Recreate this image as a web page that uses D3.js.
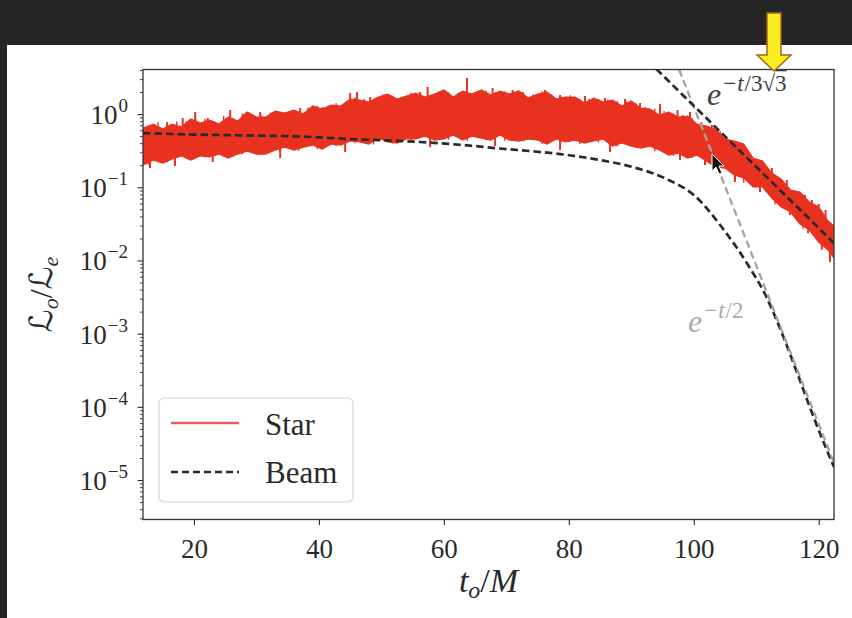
<!DOCTYPE html>
<html>
<head>
<meta charset="utf-8">
<script src="https://cdn.jsdelivr.net/npm/d3@7"></script>
<style>
  html, body { margin: 0; padding: 0; background: #ffffff; }
  svg { display: block; }
</style>
</head>
<body>
<svg id="chart" width="852" height="618"></svg>
<script>
// ---- axis settings ----
const xDomain = [11.84, 122.45];
const yDomain = [2.89e-6, 4.06];
const xTicks = [20, 40, 60, 80, 100, 120];
const yMajorTicks = [1e0, 1e-1, 1e-2, 1e-3, 1e-4, 1e-5];
const yTickExponents = ["0", "\u22121", "\u22122", "\u22123", "\u22124", "\u22125"];

// ---- Star luminosity: band envelope (upper / lower) over time ----
const starT = [11.84, 13.5, 15, 16.5, 18, 19.5, 21, 22.5, 24, 25.5, 27, 28.5, 30, 31.5, 33, 34.5, 36, 37.5, 39, 40.5,
  42, 43.5, 45, 46.5, 48, 49.5, 51, 52.5, 54, 55.5, 57, 58.5, 60, 61.5, 63, 64.5, 66, 67.5, 69, 70.5,
  72, 73.5, 75, 76.5, 78, 79.5, 81, 82.5, 84, 85.5, 87, 88.5, 90, 91.5, 93, 94.5, 96, 97.5, 99, 100.5,
  102, 103.5, 105, 106.5, 108, 109.5, 111, 112.5, 114, 115.5, 117, 118.5, 120, 121.5, 122.45];
const starHi = [0.644, 0.730, 0.624, 0.730, 0.664, 0.855, 0.754, 0.828, 0.730, 0.910,
  0.802, 1.065, 0.910, 0.910, 1.099, 1.032, 1.134, 1.000, 1.286, 1.170,
  1.327, 1.286, 1.603, 1.553, 1.458, 1.707, 1.876, 1.603, 1.762, 1.936,
  1.707, 1.876, 2.128, 1.707, 2.062, 1.876, 2.128, 1.818, 2.062, 1.876,
  2.062, 1.654, 1.876, 1.998, 1.603, 1.707, 1.707, 1.413, 1.654, 1.458,
  1.553, 1.286, 1.505, 1.208, 1.170, 0.969, 1.065, 0.910, 0.939, 0.730,
  0.686, 0.624, 0.456, 0.428, 0.389, 0.251, 0.228, 0.156, 0.129, 0.0916,
  0.0860, 0.0628, 0.0536, 0.0345, 0.0295];
const starLo = [0.201, 0.235, 0.214, 0.243, 0.267, 0.235, 0.267, 0.259, 0.284, 0.251,
  0.284, 0.312, 0.284, 0.284, 0.322, 0.354, 0.322, 0.354, 0.377, 0.333,
  0.389, 0.377, 0.428, 0.415, 0.389, 0.470, 0.415, 0.402, 0.456, 0.456,
  0.500, 0.441, 0.456, 0.517, 0.441, 0.500, 0.470, 0.441, 0.517, 0.441,
  0.428, 0.456, 0.441, 0.389, 0.456, 0.415, 0.441, 0.402, 0.428, 0.456,
  0.365, 0.402, 0.365, 0.343, 0.365, 0.322, 0.275, 0.293, 0.251, 0.275,
  0.228, 0.189, 0.183, 0.147, 0.134, 0.101, 0.101, 0.0712, 0.0536, 0.0458,
  0.0314, 0.0260, 0.0178, 0.0139, 0.0108];

// isolated flares above the band and dips below it
const starPeakT = [15.7, 18.2, 20.2, 22.2, 25.8, 28.6, 30.6, 34.9, 37.0, 39.7, 40.6, 45.0, 46.1, 48.2, 51.4,
  56.2, 57.4, 60.5, 63.7, 65.8, 67.8, 71.0, 72.6, 76.2, 78.6, 82.6, 85.8, 89.0, 91.4, 94.6,
  97.4, 99.4, 102.9, 105.4, 107.7, 110.6, 112.5, 114.9, 117.8, 118.9, 120.0, 121.1];
const starPeakV = [0.777, 0.882, 1.065, 0.882, 1.134, 1.032, 1.065, 1.032, 1.208, 1.134, 1.246, 1.936, 1.998, 1.707, 1.818,
  1.998, 2.338, 1.936, 3.103, 1.936, 2.266, 2.128, 1.998, 2.128, 1.818, 1.762, 1.654, 1.603, 1.413, 1.370,
  1.134, 1.065, 0.708, 0.441, 0.322, 0.235, 0.183, 0.1254, 0.0782, 0.0669, 0.0590, 0.0488];
const starDipT = [12.96, 16.96, 23.0, 33.8, 44.2, 57.8, 68.2, 78.6, 86.6, 97.8, 101.8, 106.6, 110.6, 115.4, 118.3, 120.5, 121.8];
const starDipV = [0.183, 0.195, 0.221, 0.251, 0.303, 0.354, 0.365, 0.322, 0.303, 0.235, 0.201, 0.118, 0.0860, 0.0417, 0.0235, 0.0140, 0.0095];

// short-scale flicker on the upper and lower edges of the band
const starUpT = [12.7, 14.25, 15.75, 17.25, 18.75, 20.25, 21.75, 23.25, 24.75, 26.25, 27.75, 29.25, 30.75, 32.25, 33.75,
  35.25, 36.75, 38.25, 39.75, 41.25, 42.75, 44.25, 45.75, 47.25, 48.75, 50.25, 51.75, 53.25, 54.75, 56.25,
  57.75, 59.25, 60.75, 62.25, 63.75, 65.25, 66.75, 68.25, 69.75, 71.25, 72.75, 74.25, 75.75, 77.25, 78.75,
  80.25, 81.75, 83.25, 84.75, 86.25, 87.75, 89.25, 90.75, 92.25, 93.75, 95.25, 96.75, 98.25, 99.75,
  101.25, 104.25, 107.25, 110.25, 113.25, 116.25, 119.25];
const starUpV = [0.70, 0.78, 0.70, 0.79, 0.80, 0.86, 0.86, 0.80, 0.95, 0.88, 1.02, 1.00, 0.96, 1.05, 1.06,
  1.10, 1.08, 1.22, 1.30, 1.25, 1.40, 1.45, 1.70, 1.62, 1.60, 1.85, 1.78, 1.72, 1.95, 1.90,
  1.80, 2.05, 1.98, 1.95, 2.00, 2.05, 2.10, 2.00, 2.05, 2.00, 1.95, 1.85, 2.05, 1.85, 1.75,
  1.80, 1.62, 1.60, 1.62, 1.58, 1.50, 1.48, 1.42, 1.25, 1.18, 1.10, 1.02, 0.97, 0.88,
  0.78, 0.58, 0.36, 0.225, 0.140, 0.088, 0.055];
const starDownT = [12.7, 15.75, 18.75, 21.75, 24.75, 27.75, 30.75, 33.75, 36.75, 39.75, 42.75, 45.75, 48.75, 51.75, 54.75,
  57.75, 60.75, 63.75, 66.75, 69.75, 72.75, 75.75, 78.75, 81.75, 84.75, 87.75, 90.75, 93.75, 96.75, 99.75,
  103.0, 108.0, 113.0, 117.5];
const starDownV = [0.205, 0.22, 0.245, 0.255, 0.26, 0.28, 0.275, 0.30, 0.315, 0.33, 0.365, 0.40, 0.385, 0.395, 0.44,
  0.43, 0.445, 0.43, 0.44, 0.43, 0.42, 0.39, 0.41, 0.39, 0.41, 0.36, 0.34, 0.31, 0.27, 0.25,
  0.19, 0.115, 0.058, 0.027];

// ---- Beam luminosity ----
const beamT = [11.84, 20.0, 29.9, 37.0, 45.0, 56.2, 63.0, 69.0, 73.8, 78.6, 85.0, 90.2, 95.7, 100.2, 104.6,
  109.0, 111.4, 113.8, 116.5, 119.0, 121.3, 122.45];
const beamV = [0.550, 0.525, 0.508, 0.493, 0.456, 0.415, 0.378, 0.338, 0.312, 0.284, 0.235, 0.189, 0.129, 0.0758, 0.0277,
  0.00787, 0.00348, 0.00119, 0.000299, 0.0000797, 0.0000257, 0.0000151];

// ---- exponential reference slopes ----
const fitSlowT = [94.0, 122.45];      // e^{-t/3√3}
const fitSlowV = [4.12, 0.0173];
const fitFastT = [97.65, 122.45];     // e^{-t/2}
const fitFastV = [4.06, 0.0000171];

const legendLabels = ["Star", "Beam"];

// ---- layout ----
const W = 852, H = 618;
const plot = { left: 143, right: 834, top: 69.5, bottom: 519.5 };
const serif = "'Liberation Serif', 'Times New Roman', serif";
const starRed = "#e8321f";
const ink = "#2a2a2a";

const svg = d3.select("#chart");

// page background: dark header strip and left edge
svg.append("rect").attr("x", 0).attr("y", 0).attr("width", W).attr("height", H).attr("fill", "#ffffff");
svg.append("rect").attr("x", 0).attr("y", 0).attr("width", W).attr("height", 45).attr("fill", "#252525");
svg.append("rect").attr("x", 0).attr("y", 45).attr("width", 7).attr("height", H - 45).attr("fill", "#252525");

const x = d3.scaleLinear().domain(xDomain).range([plot.left, plot.right]);
const y = d3.scaleLog().domain(yDomain).range([plot.bottom, plot.top]);

svg.append("defs").append("clipPath").attr("id", "plotClip")
  .append("rect")
  .attr("x", plot.left).attr("y", plot.top)
  .attr("width", plot.right - plot.left).attr("height", plot.bottom - plot.top);

const layer = svg.append("g").attr("clip-path", "url(#plotClip)");

// Star band
const starRows = starT.map((t, i) => ({ t, hi: starHi[i], lo: starLo[i] }));
layer.append("path")
  .datum(starRows)
  .attr("d", d3.area().x(d => x(d.t)).y0(d => y(d.lo)).y1(d => y(d.hi)))
  .attr("fill", starRed)
  .attr("stroke", starRed)
  .attr("stroke-width", 1.2)
  .attr("stroke-linejoin", "miter");

// flares and dips reach from inside the band to their value
const bandMid = t => {
  const i = Math.min(starT.length - 1, d3.bisectLeft(starT, t));
  return (y(starHi[i]) + y(starLo[i])) / 2;
};
const pairs = (ts, vs, w) => ts.map((t, i) => ({ t, v: vs[i], w }));
const strokes = [].concat(
  pairs(starUpT, starUpV, 1.4),
  pairs(starDownT, starDownV, 1.4),
  pairs(starPeakT, starPeakV, 2),
  pairs(starDipT, starDipV, 2)
);
layer.selectAll("line.flare").data(strokes).join("line")
  .attr("class", "flare")
  .attr("x1", d => x(d.t)).attr("x2", d => x(d.t))
  .attr("y1", d => bandMid(d.t)).attr("y2", d => y(d.v))
  .attr("stroke", starRed).attr("stroke-width", d => d.w);

// Beam curve
const beamRows = beamT.map((t, i) => ({ t, v: beamV[i] }));
const lineGen = d3.line().x(d => x(d.t)).y(d => y(d.v));
layer.append("path")
  .datum(beamRows)
  .attr("d", lineGen.curve(d3.curveMonotoneX))
  .attr("fill", "none").attr("stroke", ink).attr("stroke-width", 2.7)
  .attr("stroke-dasharray", "7.5,4");

// reference exponentials
const straight = d3.line().x(d => x(d.t)).y(d => y(d.v));
layer.append("path")
  .datum(fitFastT.map((t, i) => ({ t, v: fitFastV[i] })))
  .attr("d", straight)
  .attr("fill", "none").attr("stroke", "#a3a3a3").attr("stroke-width", 2.3)
  .attr("stroke-dasharray", "7.5,4");
layer.append("path")
  .datum(fitSlowT.map((t, i) => ({ t, v: fitSlowV[i] })))
  .attr("d", straight)
  .attr("fill", "none").attr("stroke", ink).attr("stroke-width", 2.7)
  .attr("stroke-dasharray", "7.5,4");

// ---- axes ----
const xAxis = svg.append("g")
  .attr("transform", `translate(0,${plot.bottom})`)
  .call(d3.axisBottom(x).tickValues(xTicks).tickSize(5.5).tickPadding(9).tickFormat(d3.format("d")));
xAxis.select(".domain").remove();
xAxis.selectAll(".tick line").attr("stroke", ink).attr("stroke-width", 1.1);
xAxis.selectAll(".tick text")
  .attr("font-family", serif).attr("font-size", 27).attr("fill", ink)
  .attr("dy", null).attr("y", 38);

const minorTicks = y.ticks().filter(v => !yMajorTicks.some(m => Math.abs(Math.log10(v) - Math.log10(m)) < 1e-6));
const yMinor = svg.append("g")
  .attr("transform", `translate(${plot.left},0)`)
  .call(d3.axisLeft(y).tickValues(minorTicks).tickSize(3).tickFormat(""));
yMinor.select(".domain").remove();
yMinor.selectAll(".tick line").attr("stroke", ink).attr("stroke-width", 0.9);

const yAxis = svg.append("g")
  .attr("transform", `translate(${plot.left},0)`)
  .call(d3.axisLeft(y).tickValues(yMajorTicks).tickSize(5.5).tickPadding(9).tickFormat(""));
yAxis.select(".domain").remove();
yAxis.selectAll(".tick line").attr("stroke", ink).attr("stroke-width", 1.1);
yAxis.selectAll(".tick text").each(function (d, i) {
  const t = d3.select(this)
    .attr("font-family", serif).attr("font-size", 27).attr("fill", ink)
    .attr("dy", null).attr("y", 9.5).attr("x", -15);
  t.append("tspan").text("10");
  t.append("tspan").attr("font-size", 19).attr("dy", -12).attr("dx", 1).text(yTickExponents[i]);
});

// frame
svg.append("rect")
  .attr("x", plot.left).attr("y", plot.top)
  .attr("width", plot.right - plot.left).attr("height", plot.bottom - plot.top)
  .attr("fill", "none").attr("stroke", "#333").attr("stroke-width", 1.3);

// axis titles
const xt = svg.append("text")
  .attr("x", (plot.left + plot.right) / 2).attr("y", 592)
  .attr("text-anchor", "middle").attr("font-family", serif).attr("font-size", 34).attr("fill", ink);
xt.append("tspan").attr("font-style", "italic").text("t");
xt.append("tspan").attr("font-style", "italic").attr("font-size", 24).attr("dy", 6).text("o");
xt.append("tspan").attr("dy", -6).text("/");
xt.append("tspan").attr("font-style", "italic").text("M");

const yt = svg.append("text")
  .attr("transform", `translate(52,${(plot.top + plot.bottom) / 2}) rotate(-90)`)
  .attr("text-anchor", "middle").attr("font-family", serif).attr("font-size", 32).attr("fill", ink);
yt.append("tspan").attr("font-family", "'DejaVu Serif', 'DejaVu Sans', serif").attr("font-style", "italic").text("\u2112");
yt.append("tspan").attr("font-style", "italic").attr("font-size", 22).attr("dy", 6).text("o");
yt.append("tspan").attr("dy", -6).text("/");
yt.append("tspan").attr("font-family", "'DejaVu Serif', 'DejaVu Sans', serif").attr("font-style", "italic").text("\u2112");
yt.append("tspan").attr("font-style", "italic").attr("font-size", 22).attr("dy", 6).text("e");

// slope labels
const slowLbl = svg.append("text")
  .attr("x", 707).attr("y", 105)
  .attr("font-family", serif).attr("font-size", 32).attr("fill", "#3c3c3c");
slowLbl.append("tspan").attr("font-style", "italic").text("e");
slowLbl.append("tspan").attr("font-size", 23).attr("dy", -14).attr("dx", 2).text("\u2212");
slowLbl.append("tspan").attr("font-size", 23).attr("font-style", "italic").attr("dx", 1).text("t");
slowLbl.append("tspan").attr("font-size", 23).attr("dx", 1).text("/3\u221A");
slowLbl.append("tspan").attr("font-size", 23).style("text-decoration", "overline").text("3");

const fastLbl = svg.append("text")
  .attr("x", 688).attr("y", 332)
  .attr("font-family", serif).attr("font-size", 32).attr("fill", "#ababab");
fastLbl.append("tspan").attr("font-style", "italic").text("e");
fastLbl.append("tspan").attr("font-size", 23).attr("dy", -14).attr("dx", 2).text("\u2212");
fastLbl.append("tspan").attr("font-size", 23).attr("font-style", "italic").attr("dx", 1).text("t");
fastLbl.append("tspan").attr("font-size", 23).attr("dx", 1).text("/2");

// legend
const lg = svg.append("g");
lg.append("rect")
  .attr("x", 159).attr("y", 398).attr("width", 194).attr("height", 104).attr("rx", 5)
  .attr("fill", "#ffffff").attr("fill-opacity", 0.9)
  .attr("stroke", "#d6d6d6").attr("stroke-width", 1.2);
lg.append("line").attr("x1", 171).attr("x2", 239).attr("y1", 423).attr("y2", 423)
  .attr("stroke", "#e8605c").attr("stroke-width", 2.6);
lg.append("line").attr("x1", 171).attr("x2", 239).attr("y1", 472).attr("y2", 472)
  .attr("stroke", ink).attr("stroke-width", 2.6).attr("stroke-dasharray", "7,4");
lg.selectAll("text.lbl").data(legendLabels).join("text")
  .attr("class", "lbl")
  .attr("x", 265).attr("y", (d, i) => 435 + i * 48)
  .attr("font-family", serif).attr("font-size", 31).attr("fill", ink)
  .text(d => d);

// yellow pointer arrow
svg.append("path")
  .attr("d", "M767,13 L781,13 L781,55 L791,55 L774,71 L757,55 L767,55 Z")
  .attr("fill", "#fcee21").attr("stroke", "#a0641e").attr("stroke-width", 1.5)
  .attr("stroke-linejoin", "miter");

// mouse cursor
svg.append("path")
  .attr("transform", "translate(712,154)")
  .attr("d", "M0,0 L0,17 L4,13 L7,20 L10,19 L7,12 L12,12 Z")
  .attr("fill", "#111").attr("stroke", "#fff").attr("stroke-width", 1);
</script>
</body>
</html>
